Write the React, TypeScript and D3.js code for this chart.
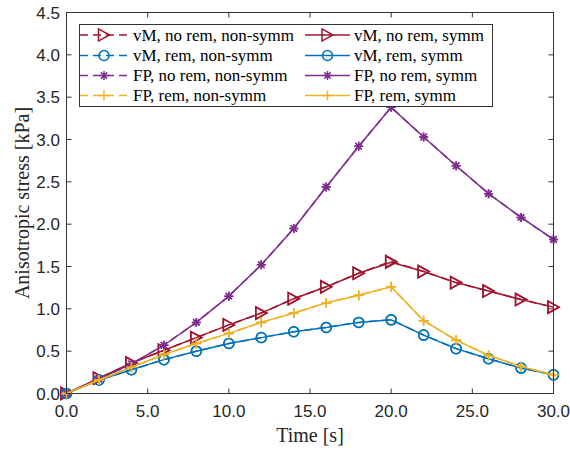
import React, { useEffect } from "react";
import * as d3 from "d3";

// Time samples [s]
const times = [0, 2, 4, 6, 8, 10, 12, 14, 16, 18, 20, 22, 24, 26, 28, 30];

// Anisotropic stress [kPa]
const vmNoRemNonSymm = [0, 0.18, 0.36, 0.51, 0.66, 0.81, 0.95, 1.12, 1.26, 1.42, 1.56, 1.44, 1.31, 1.21, 1.11, 1.02];
const vmNoRemSymm = [0, 0.18, 0.36, 0.51, 0.66, 0.81, 0.95, 1.12, 1.26, 1.42, 1.55, 1.44, 1.31, 1.21, 1.11, 1.02];
const vmRemNonSymm = [0, 0.16, 0.28, 0.40, 0.50, 0.59, 0.66, 0.73, 0.78, 0.84, 0.87, 0.69, 0.53, 0.41, 0.30, 0.22];
const vmRemSymm = [0, 0.16, 0.28, 0.40, 0.50, 0.59, 0.66, 0.73, 0.78, 0.84, 0.87, 0.69, 0.53, 0.41, 0.30, 0.22];
const fpNoRemNonSymm = [0, 0.17, 0.35, 0.57, 0.84, 1.15, 1.52, 1.95, 2.44, 2.92, 3.38, 3.03, 2.69, 2.36, 2.08, 1.82];
const fpNoRemSymm = [0, 0.17, 0.35, 0.57, 0.84, 1.15, 1.52, 1.95, 2.44, 2.92, 3.38, 3.03, 2.69, 2.36, 2.08, 1.82];
const fpRemNonSymm = [0, 0.16, 0.31, 0.46, 0.59, 0.71, 0.84, 0.95, 1.07, 1.16, 1.26, 0.86, 0.63, 0.45, 0.32, 0.22];
const fpRemSymm = [0, 0.16, 0.31, 0.46, 0.59, 0.71, 0.84, 0.95, 1.07, 1.16, 1.26, 0.86, 0.63, 0.45, 0.32, 0.22];

const xTicks = [0, 5, 10, 15, 20, 25, 30];
const yTicks = [0, 0.5, 1, 1.5, 2, 2.5, 3, 3.5, 4, 4.5];

type Marker = "tri" | "circle" | "star" | "plus";

const series = [
  { name: "vM, no rem, non-symm", values: vmNoRemNonSymm, color: "#A2142F", marker: "tri" as Marker, dashed: true },
  { name: "vM, no rem, symm", values: vmNoRemSymm, color: "#A2142F", marker: "tri" as Marker, dashed: false },
  { name: "vM, rem, non-symm", values: vmRemNonSymm, color: "#0072BD", marker: "circle" as Marker, dashed: true },
  { name: "vM, rem, symm", values: vmRemSymm, color: "#0072BD", marker: "circle" as Marker, dashed: false },
  { name: "FP, no rem, non-symm", values: fpNoRemNonSymm, color: "#7E2F8E", marker: "star" as Marker, dashed: true },
  { name: "FP, no rem, symm", values: fpNoRemSymm, color: "#7E2F8E", marker: "star" as Marker, dashed: false },
  { name: "FP, rem, non-symm", values: fpRemNonSymm, color: "#EDB120", marker: "plus" as Marker, dashed: true },
  { name: "FP, rem, symm", values: fpRemSymm, color: "#EDB120", marker: "plus" as Marker, dashed: false },
];

const W = 570;
const H = 450;
const left = 66.5;
const right = 553.5;
const top = 12.5;
const bottom = 393.5;

const serif = "'Liberation Serif', 'Times New Roman', serif";
const sans = "'Liberation Sans', Arial, sans-serif";
const axisColor = "#333333";

function MarkerShape({ kind, x, y, color }: { kind: Marker; x: number; y: number; color: string }) {
  const sw = 1.5;
  if (kind === "tri") {
    const s = 5.5;
    const pts = `${x - s},${y - s * 1.1} ${x + s},${y} ${x - s},${y + s * 1.1}`;
    return <polygon points={pts} fill="none" stroke={color} strokeWidth={sw} />;
  }
  if (kind === "circle") {
    return <circle cx={x} cy={y} r={5} fill="none" stroke={color} strokeWidth={sw} />;
  }
  if (kind === "plus") {
    const s = 5;
    return (
      <path d={`M${x - s},${y}H${x + s}M${x},${y - s}V${y + s}`} stroke={color} strokeWidth={sw} fill="none" />
    );
  }
  const s = 4.5;
  const d = 3.2;
  return (
    <path
      d={`M${x - s},${y}H${x + s}M${x},${y - s}V${y + s}M${x - d},${y - d}L${x + d},${y + d}M${x - d},${y + d}L${x + d},${y - d}`}
      stroke={color}
      strokeWidth={sw}
      fill="none"
    />
  );
}

export default function App() {
  useEffect(() => {
    document.body.style.margin = "0";
  }, []);

  const x = d3.scaleLinear().domain([0, 30]).range([left, right]);
  const y = d3.scaleLinear().domain([0, 4.5]).range([bottom, top]);

  const line = d3
    .line<number>()
    .x((_, i) => x(times[i]))
    .y((v) => y(v));

  const legendRows = [35, 55.5, 75.5, 95.5];
  const legendCols = [
    { x0: 80, x1: 128, tx: 133 },
    { x0: 305, x1: 350, tx: 354 },
  ];

  return (
    <svg width={W} height={H} style={{ display: "block", background: "#fff" }}>
      {/* axes box */}
      <rect x={left} y={top} width={right - left} height={bottom - top} fill="#fff" stroke="none" />

      {/* data lines */}
      {series.map((s) => (
        <g key={s.name}>
          <path
            d={line(s.values) ?? ""}
            fill="none"
            stroke={s.color}
            strokeWidth={1.5}
            strokeDasharray={s.dashed ? "8,5" : undefined}
          />
          {s.values.map((v, i) => (
            <MarkerShape key={i} kind={s.marker} x={x(times[i])} y={y(v)} color={s.color} />
          ))}
        </g>
      ))}

      {/* frame */}
      <rect x={left} y={top} width={right - left} height={bottom - top} fill="none" stroke={axisColor} strokeWidth={1} />

      {/* x ticks */}
      {xTicks.map((t) => (
        <g key={`x${t}`}>
          <line x1={x(t)} x2={x(t)} y1={bottom} y2={bottom - 5} stroke={axisColor} />
          <line x1={x(t)} x2={x(t)} y1={top} y2={top + 5} stroke={axisColor} />
          <text x={x(t)} y={417} textAnchor="middle" fontFamily={sans} fontSize={17} fill="#262626">
            {d3.format(".1f")(t)}
          </text>
        </g>
      ))}

      {/* y ticks */}
      {yTicks.map((t) => (
        <g key={`y${t}`}>
          <line x1={left} x2={left + 5} y1={y(t)} y2={y(t)} stroke={axisColor} />
          <line x1={right} x2={right - 5} y1={y(t)} y2={y(t)} stroke={axisColor} />
          <text x={60} y={y(t) + 6} textAnchor="end" fontFamily={sans} fontSize={17} fill="#262626">
            {d3.format(".1f")(t)}
          </text>
        </g>
      ))}

      {/* axis titles */}
      <text x={(left + right) / 2} y={442} textAnchor="middle" fontFamily={serif} fontSize={20} fill="#262626">
        Time [s]
      </text>
      <text
        transform={`translate(29,${(top + bottom) / 2}) rotate(-90)`}
        textAnchor="middle"
        fontFamily={serif}
        fontSize={20}
        fill="#262626"
      >
        Anisotropic stress [kPa]
      </text>

      {/* legend */}
      <rect x={79.5} y={24.5} width={413} height={82} fill="#fff" stroke={axisColor} strokeWidth={1} />
      {series.map((s, i) => {
        const row = Math.floor(i / 2);
        const col = legendCols[i % 2];
        const ly = legendRows[row];
        return (
          <g key={`lg${s.name}`}>
            <line
              x1={col.x0}
              x2={col.x1}
              y1={ly}
              y2={ly}
              stroke={s.color}
              strokeWidth={1.5}
              strokeDasharray={s.dashed ? "8,5" : undefined}
            />
            <MarkerShape kind={s.marker} x={(col.x0 + col.x1) / 2} y={ly} color={s.color} />
            <text x={col.tx} y={ly + 5.5} fontFamily={serif} fontSize={17} fill="#000">
              {s.name}
            </text>
          </g>
        );
      })}
    </svg>
  );
}
